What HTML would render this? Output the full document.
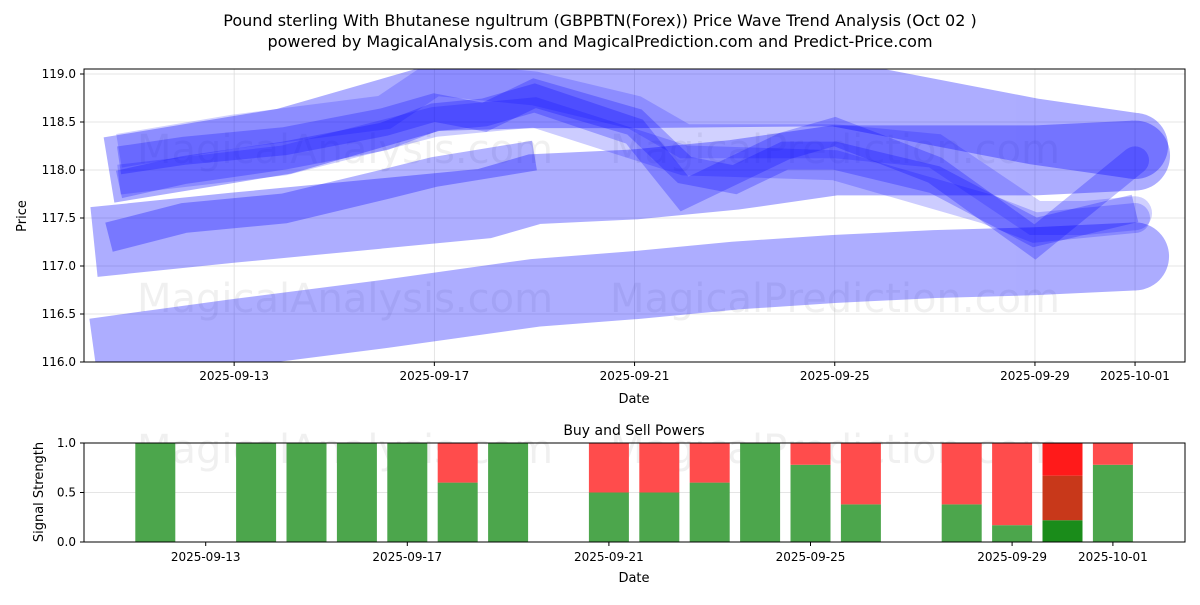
<!DOCTYPE html>
<html><head><meta charset="utf-8"><style>
body{margin:0;background:#fff;font-family:"Liberation Sans","DejaVu Sans",sans-serif;}
svg text{font-family:"DejaVu Sans","Liberation Sans",sans-serif;}
</style></head><body>
<svg id="s" width="1200" height="600" xmlns="http://www.w3.org/2000/svg">
<rect width="1200" height="600" fill="#fff"/>
<text x="600" y="26" text-anchor="middle" font-size="16">Pound sterling With Bhutanese ngultrum (GBPBTN(Forex)) Price Wave Trend Analysis (Oct 02 )</text>
<text x="600" y="47" text-anchor="middle" font-size="16">powered by MagicalAnalysis.com and MagicalPrediction.com and Predict-Price.com</text>
<g id="topg"></g>
<g id="botg"></g>
</svg>
<script>
// ---- price data (day index from 2025-09-10) ----
const bandADays=[0.2,3,6,9,11,13,15,17,19,21];
const bandAVals=[116.1,116.3,116.5,116.72,116.8,116.9,116.97,117.02,117.05,117.1];
const bandBDays=[0.2,3,5,8,9,11,13,15,17,19,21];
const bandBVals=[117.25,117.4,117.5,117.65,117.8,117.85,117.95,118.1,118.1,118.1,118.15];
const bandCDays=[0.5,4,7,9,11,15,17,19,21];
const bandCVals=[118.0,118.3,118.75,118.78,118.78,118.8,118.6,118.4,118.25];
const line1Days=[0.7,2,4,6,7,8,9,11,12,13,14,15,17,19,21];
const line1Vals=[118.1,118.2,118.3,118.5,118.65,118.55,118.8,118.5,118.0,117.9,118.15,118.15,117.9,117.35,117.6];
const line2Days=[0.7,2,4,6,7,8,9,11,12,13,14,15,17,19,21];
const line2Vals=[117.85,118.0,118.15,118.35,118.55,118.6,118.75,118.4,117.75,118.0,118.25,118.4,118.0,117.25,118.1];
const line3Days=[0.7,3,6,7,9,11,12,15,17,19,20,21];
const line3Vals=[118.2,118.4,118.6,118.95,118.85,118.6,118.3,118.3,118.2,117.5,117.5,117.55];
const line4Days=[0.5,2,4,6,7,9];
const line4Vals=[117.3,117.5,117.6,117.85,117.98,118.15];
const line5Days=[0.7,4,7,9,12,15,18,19,21];
const line5Vals=[117.9,118.1,118.5,118.6,118.1,118.05,117.6,117.4,117.5];
const yTicks=[116.0,116.5,117.0,117.5,118.0,118.5,119.0];
const xTickDays=[3,7,11,15,19,21];
const xTickLabels=["2025-09-13","2025-09-17","2025-09-21","2025-09-25","2025-09-29","2025-10-01"];
// ---- signal data (day index from 2025-09-10) ----
const barDays=[2,4,5,6,7,8,9,11,12,13,14,15,16,18,19,21];
const buyVals=[1,1,1,1,1,0.6,1,0.5,0.5,0.6,1,0.78,0.38,0.38,0.17,0.78];
const specialDay=20;
const specialSegs=[0.22,0.45,0.33];
const sigTicks=[0.0,0.5,1.0];

const NS="http://www.w3.org/2000/svg";
function mk(t,a,p){const e=document.createElementNS(NS,t);for(const k in a)e.setAttribute(k,a[k]);p.appendChild(e);return e;}
const topG=document.getElementById('topg'),botG=document.getElementById('botg');
const L=84,R=1185,T=69,B=362;
const px=d=>84+d*50.05;
const py=v=>362-(v-116)*96;
yTicks.forEach(v=>{
  const g=mk('line',{x1:L,x2:R,y1:py(v),y2:py(v),stroke:'#ddd','stroke-width':0.8},topG);
  
  
  mk('line',{x1:L-4,x2:L,y1:py(v),y2:py(v),stroke:'#000'},topG);
  const t=mk('text',{x:L-8,y:py(v)+4,'text-anchor':'end','font-size':12},topG);t.textContent=v.toFixed(1);
  
  
});
xTickDays.forEach((d,i)=>{
  mk('line',{x1:px(d),x2:px(d),y1:T,y2:B,stroke:'#ddd','stroke-width':0.8},topG);
  mk('line',{x1:px(d),x2:px(d),y1:B,y2:B+4,stroke:'#000'},topG);
  const t=mk('text',{x:px(d),y:B+18,'text-anchor':'middle','font-size':12},topG);t.textContent=xTickLabels[i];
  
  
});
[[345,163,'MagicalAnalysis.com'],[835,163,'MagicalPrediction.com'],[345,312,'MagicalAnalysis.com'],[835,312,'MagicalPrediction.com'],[345,463,'MagicalAnalysis.com'],[835,463,'MagicalPrediction.com']].forEach(w=>{
  const t=mk('text',{x:w[0],y:w[1],'text-anchor':'middle','font-size':40,fill:'#000','fill-opacity':0.06},w[1]>400?botG:topG);t.textContent=w[2];
  
  
});
const clip=mk('clipPath',{id:'c1'},topG);mk('rect',{x:L,y:T,width:R-L,height:B-T},clip);
const gl=mk('g',{'clip-path':'url(#c1)'},topG);
function band(days,vals,w,op,name,endCap){
  const d=days.map((x,i)=>(i?'L':'M')+px(x).toFixed(1)+','+py(vals[i]).toFixed(1)).join(' ');
  const g=mk('g',{opacity:op},gl);
  
  
  mk('path',{d:d,fill:'none',stroke:'#0000ff','stroke-width':w,'stroke-linejoin':'miter','stroke-linecap':'butt'},g);
  if(endCap){const n=days.length-1;mk('circle',{cx:px(days[n]),cy:py(vals[n]),r:w/2,fill:'#0000ff'},g);}
}
band(bandADays,bandAVals,68,0.32,'wave-band-low',true);
band(bandBDays,bandBVals,70,0.32,'wave-band-mid',true);
band(bandCDays,bandCVals,66,0.32,'wave-band-high',true);
band(line4Days,line4Vals,30,0.3,'wave-line-4',false);
band(line5Days,line5Vals,30,0.2,'wave-line-5',true);
band(line3Days,line3Vals,34,0.18,'wave-line-3',true);
band(line1Days,line1Vals,28,0.25,'wave-line-1',false);
band(line2Days,line2Vals,28,0.25,'wave-line-2',true);
mk('rect',{x:L,y:T,width:R-L,height:B-T,fill:'none',stroke:'#000','stroke-width':1},topG);
let t=mk('text',{x:634,y:403,'text-anchor':'middle','font-size':13},topG);t.textContent='Date';


t=mk('text',{x:26,y:216,'text-anchor':'middle','font-size':13,transform:'rotate(-90 26 216)'},topG);t.textContent='Price';



const BT=443,BB=542;
const bx=d=>54.5+d*50.4;
const by=v=>BB-v*99;
sigTicks.forEach(v=>{
  mk('line',{x1:L,x2:R,y1:by(v),y2:by(v),stroke:'#ddd','stroke-width':0.8},botG);
  mk('line',{x1:L-4,x2:L,y1:by(v),y2:by(v),stroke:'#000'},botG);
  const tt=mk('text',{x:L-8,y:by(v)+4,'text-anchor':'end','font-size':12},botG);tt.textContent=v.toFixed(1);
  
  
});
barDays.forEach((d,i)=>{
  const g=buyVals[i];
  const r1=mk('rect',{x:bx(d)-20,y:by(g),width:40,height:by(0)-by(g),fill:'#4ca64c'},botG);
  
  
  const r2=mk('rect',{x:bx(d)-20,y:by(1),width:40,height:by(g)-by(1),fill:'#ff4c4c'},botG);
  
  
});
const sc=['#1a8c1a','#c8381a','#ff1a1a'];let acc=0;
specialSegs.forEach((s,i)=>{
  const r=mk('rect',{x:bx(specialDay)-20,y:by(acc+s),width:40,height:by(acc)-by(acc+s),fill:sc[i]},botG);
  
  
  acc+=s;
});
xTickDays.forEach((d,i)=>{
  mk('line',{x1:bx(d),x2:bx(d),y1:BB,y2:BB+4,stroke:'#000'},botG);
  const tt=mk('text',{x:bx(d),y:BB+19,'text-anchor':'middle','font-size':12},botG);tt.textContent=xTickLabels[i];
  
  
});
mk('rect',{x:L,y:BT,width:R-L,height:BB-BT,fill:'none',stroke:'#000','stroke-width':1},botG);
t=mk('text',{x:634,y:435,'text-anchor':'middle','font-size':14},botG);t.textContent='Buy and Sell Powers';


t=mk('text',{x:634,y:582,'text-anchor':'middle','font-size':13},botG);t.textContent='Date';


t=mk('text',{x:43,y:492,'text-anchor':'middle','font-size':13,transform:'rotate(-90 43 492)'},botG);t.textContent='Signal Strength';


</script>
</body></html>
